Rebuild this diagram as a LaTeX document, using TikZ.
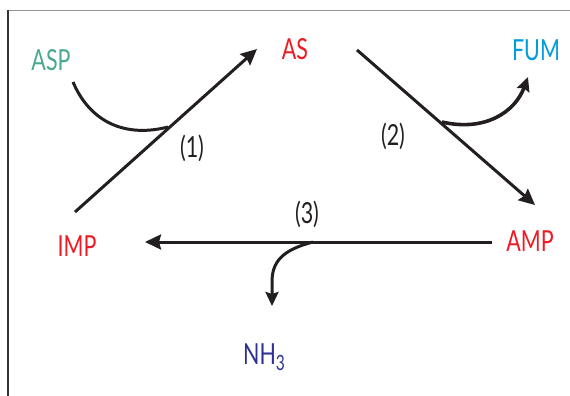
\documentclass[tikz,border=0pt]{standalone}
\usepackage{fontspec}
\setmainfont{Lato}[FakeStretch=0.74]
\usetikzlibrary{arrows.meta}
\definecolor{ink}{RGB}{35,31,32}
\definecolor{aspcol}{RGB}{72,170,140}
\definecolor{redcol}{RGB}{237,28,36}
\definecolor{fumcol}{RGB}{0,156,222}
\definecolor{nhcol}{RGB}{46,49,146}
\tikzset{
  lbl/.style={font=\fontsize{29}{30}\selectfont, inner sep=0pt, anchor=center},
  stepnum/.style={lbl, text=ink},
  conn/.style={draw=ink, line width=3pt},
  arr/.style={conn, -{Stealth[length=16pt,width=15pt,inset=2pt]}},
  smallarr/.style={conn, -{Stealth[length=14pt,width=13pt,inset=2pt]}},
}
\begin{document}
\begin{tikzpicture}[x=1pt,y=-1pt]
\useasboundingbox (0,0) rectangle (570,396);
% frame
\draw[draw=gray!85, line width=1.3pt] (8,10.5) -- (570,10.5);
\draw[draw=ink!90, line width=1.3pt] (8,10) -- (8,396);
% labels
\node[lbl, text=aspcol] (ASP) at (51,60) {ASP};
\node[lbl, text=redcol] (AS) at (295,49) {AS};
\node[lbl, text=fumcol] (FUM) at (536,50) {FUM};
\node[lbl, text=redcol] (IMP) at (77,246) {IMP};
\node[lbl, text=redcol] (AMP) at (530,241) {AMP};
\node[lbl, text=nhcol, anchor=base west] (NH) at (243,364) {NH\raisebox{-6pt}{\fontsize{21}{21}\selectfont 3}};
\node[stepnum] (s1) at (192,148) {(1)};
\node[stepnum] (s2) at (393,136) {(2)};
\node[stepnum] (s3) at (307,214) {(3)};
% connector end points
\coordinate (r1s) at (75,212);
\coordinate (r1e) at (257,49);
\coordinate (aspS) at (73,82);
\coordinate (j1) at (168,127);
\coordinate (r2s) at (357,50);
\coordinate (r2e) at (535,205);
\coordinate (j2) at (442,122);
\coordinate (fumE) at (528,77);
\coordinate (r3s) at (492,242);
\coordinate (r3e) at (145,242);
\coordinate (j3) at (313,242);
\coordinate (nhE) at (272,306);
% reaction 1
\draw[arr] (r1s) -- (r1e);
\draw[conn] (aspS) .. controls (90,122) and (125,138) .. (j1);
% reaction 2
\draw[arr] (r2s) -- (r2e);
\draw[smallarr, line width=3.6pt] (j2) .. controls (485,132) and (515,112) .. (fumE);
% reaction 3
\draw[arr] (r3s) -- (r3e);
\draw[smallarr] (j3) .. controls (282,250) and (272,262) .. (272,282) -- (nhE);
\end{tikzpicture}
\end{document}
